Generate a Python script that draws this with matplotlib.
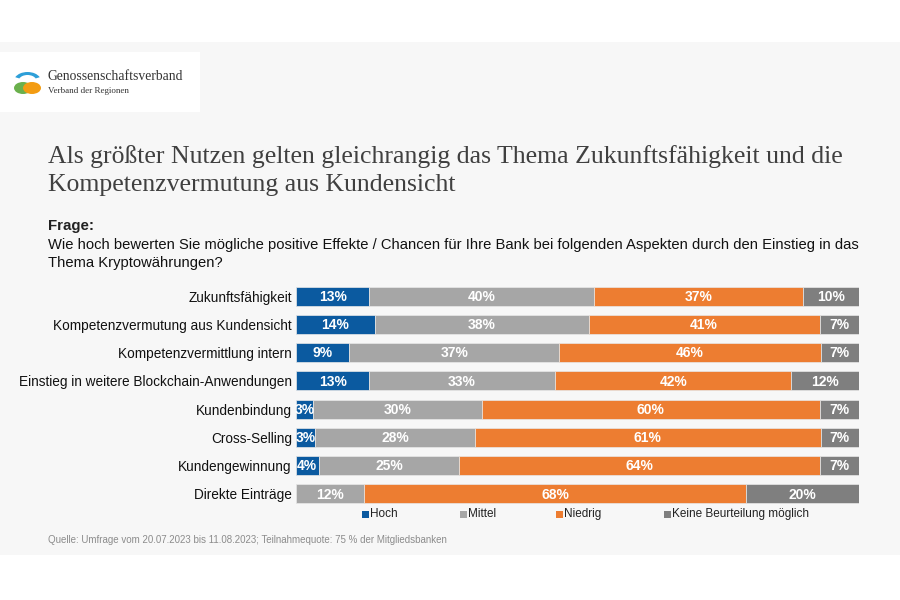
import matplotlib.pyplot as plt
import matplotlib.patches as mpatches
import numpy as np

plt.rcParams['font.family'] = ['Liberation Sans', 'DejaVu Sans']

# Daten
categories = ["Zukunftsfähigkeit", "Kompetenzvermutung aus Kundensicht",
              "Kompetenzvermittlung intern", "Einstieg in weitere Blockchain-Anwendungen",
              "Kundenbindung", "Cross-Selling", "Kundengewinnung", "Direkte Einträge"]
hoch = [13, 14, 9.4, 13, 3, 3.4, 4, 0]
mittel = [40, 38, 37.4, 33, 30, 28.4, 25, 12]
niedrig = [37, 41, 46.4, 42, 60, 61.4, 64, 68]
keine = [10, 7, 6.8, 12, 7, 6.8, 7, 20]
series_names = ["Hoch", "Mittel", "Niedrig", "Keine Beurteilung möglich"]
colors = ["#0b5aa0", "#a6a6a6", "#ed7d31", "#7f7f7f"]

fig = plt.figure(figsize=(9, 6), dpi=100)
W, H = 900, 600

def fx(x):
    return x / W

def fy(y):
    return 1 - y / H

# Hintergrund
fig.patches.append(mpatches.Rectangle((0, fy(555)), 1, fy(42) - fy(555),
                                      transform=fig.transFigure, facecolor="#f7f7f7",
                                      edgecolor="none", zorder=-10))
fig.patches.append(mpatches.Rectangle((0, fy(112)), fx(200), fy(52) - fy(112),
                                      transform=fig.transFigure, facecolor="white",
                                      edgecolor="none", zorder=-5))

# Logo
for (cx, cy, r, c) in [(23, 88, 6, "#6ab04c"), (32, 88, 6, "#f39c12")]:
    fig.patches.append(mpatches.Circle((fx(cx), fy(cy)), r / H, transform=fig.transFigure,
                                       facecolor=c, edgecolor="none"))
fig.patches.append(mpatches.Wedge((fx(27.5), fy(81)), 9 / H, 25, 155, width=3 / H,
                                  transform=fig.transFigure, facecolor="#2e9fd8",
                                  edgecolor="none"))
fig.text(fx(48), fy(77), "Genossenschaftsverband", family="Liberation Serif",
         fontsize=9.8, color="#333333", va="center")
fig.text(fx(48), fy(91), "Verband der Regionen", family="Liberation Serif",
         fontsize=6.5, color="#333333", va="center")

# Titel
fig.text(fx(48), fy(157), "Als größter Nutzen gelten gleichrangig das Thema Zukunftsfähigkeit und die",
         family="Liberation Serif", fontsize=18.5, color="#404040", va="center")
fig.text(fx(48), fy(185), "Kompetenzvermutung aus Kundensicht",
         family="Liberation Serif", fontsize=18.5, color="#404040", va="center")

fig.text(fx(48), fy(226), "Frage:", fontsize=10.8, fontweight="bold", color="#222222", va="center")
fig.text(fx(48), fy(245), "Wie hoch bewerten Sie mögliche positive Effekte / Chancen für Ihre Bank bei folgenden Aspekten durch den Einstieg in das",
         fontsize=10.6, color="#111111", va="center")
fig.text(fx(48), fy(263), "Thema Kryptowährungen?", fontsize=10.6, color="#111111", va="center")

# Balken
ax = fig.add_axes([fx(296), fy(508), fx(859) - fx(296), fy(282) - fy(508)])
ax.set_facecolor("none")
y = np.arange(len(categories))
left = np.zeros(len(categories))
for vals, name, col in zip([hoch, mittel, niedrig, keine], series_names, colors):
    vals = np.array(vals)
    ax.barh(y, vals, left=left, height=0.68, color=col, edgecolor="#e8e8e8", linewidth=0.5)
    for yi, l, v in zip(y, left, vals):
        if v > 0:
            ax.text(l + v / 2, yi + 0.03, f"{v:.0f}%", ha="center", va="center",
                    color="white", fontweight="bold", fontsize=10)
    left += vals

ax.set_xlim(0, 100)
ax.set_ylim(len(categories) - 0.5, -0.5)
ax.set_yticks(y)
ax.set_yticklabels(categories, fontsize=9.8, color="#111111")
ax.tick_params(axis="y", length=0, pad=3)
ax.set_xticks([])
for s in ax.spines.values():
    s.set_visible(False)

# Legende
leg_x = [362, 460, 556, 664]
for lx, name, col in zip(leg_x, series_names, colors):
    fig.patches.append(mpatches.Rectangle((fx(lx), fy(518)), 7 / W, 7 / H,
                                          transform=fig.transFigure, facecolor=col,
                                          edgecolor="none"))
    fig.text(fx(lx + 8), fy(514), name, fontsize=8.5, color="#222222", va="center")

fig.text(fx(48), fy(540), "Quelle: Umfrage vom 20.07.2023 bis 11.08.2023; Teilnahmequote: 75 % der Mitgliedsbanken",
         fontsize=7.0, color="#8c8c8c", va="center")

fig.savefig("out.png", dpi=100)
